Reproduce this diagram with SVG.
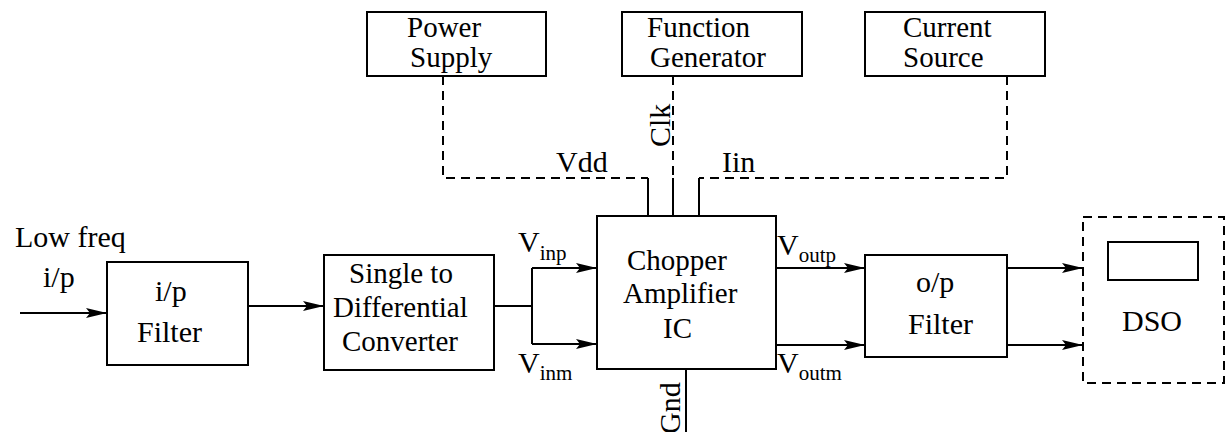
<svg xmlns="http://www.w3.org/2000/svg" width="1229" height="432" viewBox="0 0 1229 432" font-family="'Liberation Serif','Times New Roman',Times,'Nimbus Roman','Nimbus Roman No9 L',FreeSerif,Tinos,'Noto Serif','DejaVu Serif',serif">
<style>
text{font-family:'Liberation Serif','Times New Roman',Times,'Nimbus Roman','Nimbus Roman No9 L',FreeSerif,Tinos,'Noto Serif','DejaVu Serif',serif;font-size:30px;fill:#000}
.sm{font-size:29px}
.sub{font-size:21px}
.box{fill:#fff;stroke:#000;stroke-width:2}
.dbox{fill:none;stroke:#000;stroke-width:2;stroke-dasharray:9,6}
.w{fill:none;stroke:#000;stroke-width:2}
.d{fill:none;stroke:#000;stroke-width:2;stroke-dasharray:9,6}
.a{marker-end:url(#ah)}
</style>
<defs>
<marker id="ah" markerWidth="22" markerHeight="12" refX="21" refY="6" orient="auto" markerUnits="userSpaceOnUse">
<path d="M0,1 L21,6 L0,11 L4,6 Z" fill="#000"/>
</marker>
</defs>
<g id="connectors">
<path class="w a" d="M20,313 L107,313"/>
<path class="w a" d="M248,306 L324,306"/>
<path class="w" d="M494,306 L532,306 M532,268 L532,344"/>
<path class="w a" d="M532,268 L597,268"/>
<path class="w a" d="M532,344 L597,344"/>
<path class="w a" d="M776,268 L865,268"/>
<path class="w a" d="M776,345 L865,345"/>
<path class="w a" d="M1007,268 L1083,268"/>
<path class="w a" d="M1007,345 L1083,345"/>
<path class="d" d="M443,76 L443,178 L648,178"/>
<path class="w" d="M648,178 L648,216"/>
<path class="d" d="M673,76 L673,178"/>
<path class="w" d="M673,178 L673,216"/>
<path class="d" d="M1007,76 L1007,178 L699,178"/>
<path class="w" d="M699,178 L699,216"/>
<path class="w" d="M686,369 L686,432"/>
</g>
<g id="labels">
<text x="15" y="247">Low freq</text>
<text x="43" y="287">i/p</text>
<text x="518" y="252">V<tspan class="sub" dy="8">inp</tspan></text>
<text x="518" y="373">V<tspan class="sub" dy="7">inm</tspan></text>
<text x="777" y="255">V<tspan class="sub" dy="7">outp</tspan></text>
<text x="777" y="373">V<tspan class="sub" dy="7">outm</tspan></text>
<text x="556" y="172">Vdd</text>
<text x="722" y="172">Iin</text>
<text transform="translate(670,147) rotate(-90)">Clk</text>
<text transform="translate(680,434) rotate(-90)">Gnd</text>
</g>
<g id="ip-filter">
<rect class="box" x="107" y="262" width="141" height="103"/>
<text x="155" y="301">i/p</text>
<text x="137" y="342">Filter</text>
</g>
<g id="s2d">
<rect class="box" x="324" y="255" width="170" height="115"/>
<text class="sm" x="349" y="283">Single to</text>
<text class="sm" x="333" y="317">Differential</text>
<text class="sm" x="342" y="351">Converter</text>
</g>
<g id="chopper">
<rect class="box" x="597" y="216" width="179" height="153"/>
<text class="sm" x="627" y="270">Chopper</text>
<text class="sm" x="623" y="303">Amplifier</text>
<text class="sm" x="663" y="338">IC</text>
</g>
<g id="op-filter">
<rect class="box" x="865" y="255" width="142" height="102"/>
<text x="916" y="292">o/p</text>
<text x="908" y="334">Filter</text>
</g>
<g id="dso">
<rect class="dbox" x="1083" y="217" width="141" height="166"/>
<rect class="box" x="1108" y="242" width="90" height="38"/>
<text x="1122" y="331">DSO</text>
</g>
<g id="power">
<rect class="box" x="367" y="12" width="179" height="64"/>
<text class="sm" x="407" y="37">Power</text>
<text class="sm" x="410" y="67">Supply</text>
</g>
<g id="funcgen">
<rect class="box" x="622" y="12" width="180" height="64"/>
<text class="sm" x="647" y="37">Function</text>
<text class="sm" x="650" y="67">Generator</text>
</g>
<g id="current">
<rect class="box" x="865" y="12" width="180" height="64"/>
<text class="sm" x="903" y="37">Current</text>
<text class="sm" x="903" y="67">Source</text>
</g>
</svg>
